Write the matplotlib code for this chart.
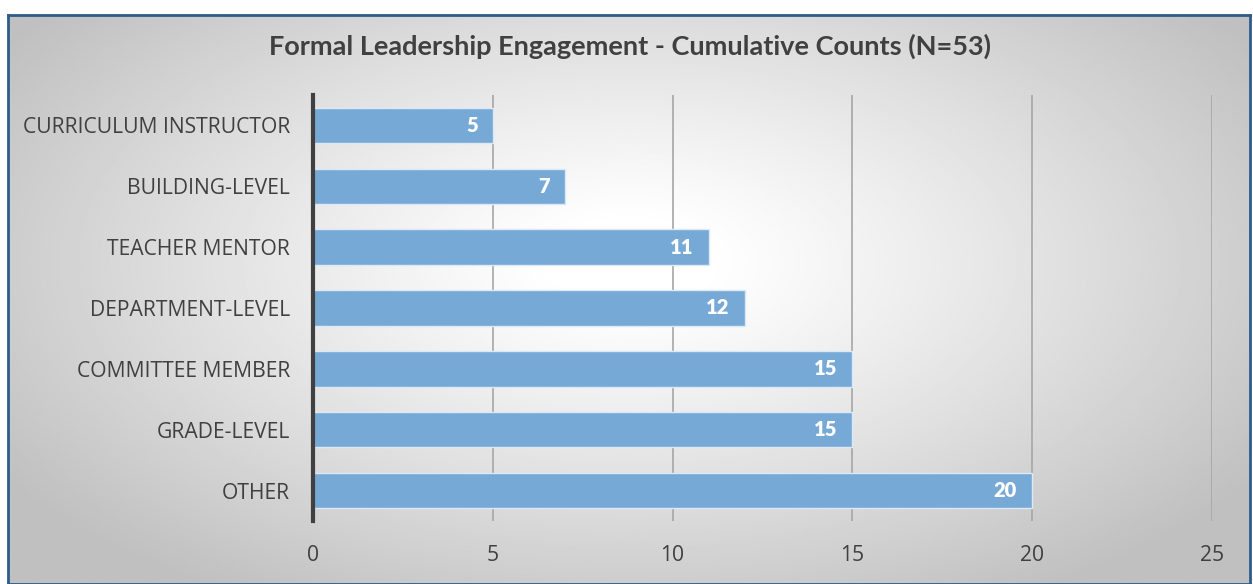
import numpy as np
import matplotlib
matplotlib.use("Agg")
import matplotlib.pyplot as plt

categories = ["OTHER", "GRADE-LEVEL", "COMMITTEE MEMBER", "DEPARTMENT-LEVEL",
              "TEACHER MENTOR", "BUILDING-LEVEL", "CURRICULUM INSTRUCTOR"]
counts = [20, 15, 15, 12, 11, 7, 5]
xticks = [0, 5, 10, 15, 20, 25]
title = "Formal Leadership Engagement - Cumulative Counts (N=53)"

W, H = 1253, 584
fig = plt.figure(figsize=(W / 100, H / 100), dpi=100)
fig.patch.set_facecolor("white")

# radial gradient background inside frame
bg = fig.add_axes([8 / W, 0, (1250 - 8) / W, (H - 15) / H])
yy, xx = np.mgrid[0:300, 0:600]
cx, cy = 300, 130
r = np.sqrt(((xx - cx) / 300) ** 2 + ((yy - cy) / 170) ** 2)
val = 1.0 - 0.25 * np.clip((r - 0.12) / 1.1, 0, 1) ** 1.1
bg.imshow(val, cmap="gray", vmin=0, vmax=1, aspect="auto", interpolation="bilinear")
bg.set_xticks([]); bg.set_yticks([])
for s in bg.spines.values():
    s.set_color("#2E5C8A")
    s.set_linewidth(2)

fig.text(630 / W, 1 - 46 / H, title, ha="center", va="center",
         fontsize=19.5, fontweight="bold", color="#404040", family="Lato")

ax = fig.add_axes([313 / W, 1 - 521 / H, (1212 - 313) / W, (521 - 95) / H])
ax.patch.set_alpha(0)
y = np.arange(len(categories))
ax.barh(y, counts, height=0.58, color="#77A9D7", edgecolor="#DCE8F4",
        linewidth=1, zorder=3)
for yi, c in zip(y, counts):
    ax.text(c - 0.42, yi, str(c), ha="right", va="center", color="white",
            fontsize=14.5, fontweight="heavy", family="Lato", zorder=4)
ax.set_xlim(0, 25)
ax.set_ylim(-0.5, len(categories) - 0.5)
ax.set_xticks(xticks)
ax.set_yticks(y)
ax.set_yticklabels(categories)
ax.xaxis.grid(True, color="#A6A6A6", linewidth=1.2, zorder=0)
ax.set_axisbelow(True)
for s in ["top", "right", "bottom"]:
    ax.spines[s].set_visible(False)
ax.spines["left"].set_color("#404040")
ax.spines["left"].set_linewidth(3)
ax.spines["left"].set_zorder(5)
ax.tick_params(axis="both", length=0, labelsize=15.2, labelcolor="#404040")
ax.tick_params(axis="x", pad=17)
ax.tick_params(axis="y", pad=16.5)
for lab in ax.get_xticklabels() + ax.get_yticklabels():
    lab.set_family("Open Sans")

fig.savefig("out.png", dpi=100)
